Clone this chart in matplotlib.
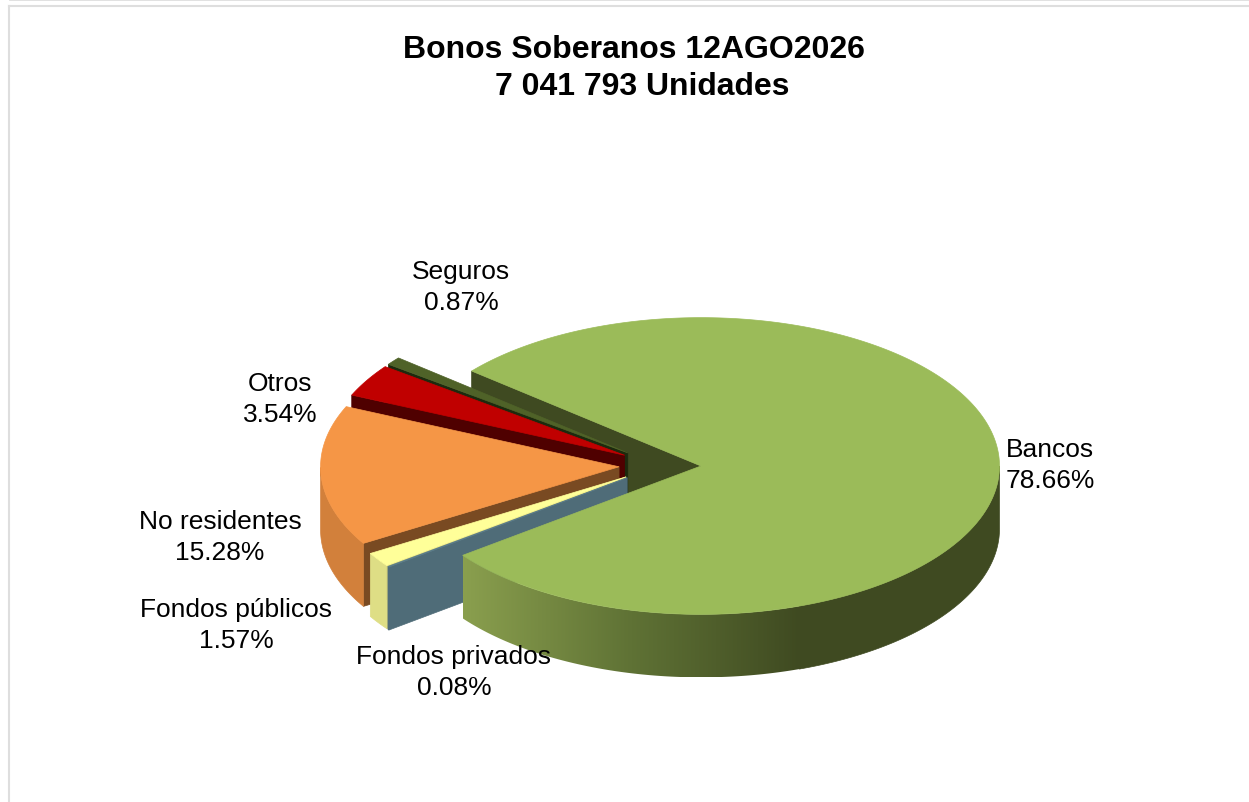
import numpy as np
import matplotlib
matplotlib.use("Agg")
import matplotlib.pyplot as plt
from matplotlib.colors import LinearSegmentedColormap
from matplotlib.patches import Polygon

plt.rcParams['font.family'] = ['Liberation Sans', 'DejaVu Sans']

# data, in drawing order of the chart (clockwise)
categories = ['Bancos', 'Fondos privados', 'Fondos públicos', 'No residentes', 'Otros', 'Seguros']
values = [78.66, 0.08, 1.57, 15.28, 3.54, 0.87]

top_colors = ['#9BBB59', '#5A7C8A', '#FFFF99', '#F59646', '#C00000', '#4F6228']
rim_colors = [None, '#4F6C78', '#DEDE85', '#D2803B', '#7F0000', '#2E3A17']
cut_colors = ['#3F4A21', '#4F6C78', '#C9C97A', '#794A22', '#4F0000', '#1D2A0E']

label_xy = [(1050, 465.5), (454, 672.5), (236, 625.5), (220, 537.5), (280, 399.5), (461, 287.5)]

# geometry of the 3d pie, in pixels
cx, cy = 660, 466.5
rx, squash = 298.5, 0.497
depth = 63
explode = 41
start_angle = 140.2


def rim_point(center, t):
    t = np.radians(t)
    return np.column_stack([center[0] + rx * np.cos(t), center[1] - rx * squash * np.sin(t)])


fig = plt.figure(figsize=(12.49, 8.03), dpi=100)
ax = fig.add_axes([0, 0, 1, 1])
ax.set_xlim(0, 1249)
ax.set_ylim(803, 0)
ax.axis('off')

# angles of each slice, going clockwise
spans = np.array(values) / sum(values) * 360
starts = start_angle - np.concatenate([[0], np.cumsum(spans)[:-1]])
ends = starts - spans
mids = np.radians((starts + ends) / 2)
centers = [(cx + explode * np.cos(m), cy - explode * squash * np.sin(m)) for m in mids]


def draw_cut(i, t):
    c = centers[i]
    p = rim_point(c, np.array([t]))[0]
    poly = [c, p, (p[0], p[1] + depth), (c[0], c[1] + depth)]
    ax.add_patch(Polygon(poly, closed=True, fc=cut_colors[i], ec=cut_colors[i], lw=0.5, zorder=2))


def draw_slice(i):
    c = centers[i]
    t = np.linspace(starts[i], ends[i], max(int(spans[i] * 2), 3))
    arc = rim_point(c, t)
    # outer wall, only the part facing the viewer
    low = (t % 360) > 180
    if low.any() and rim_colors[i]:
        a = arc[low]
        wall = np.vstack([a, (a + [0, depth])[::-1]])
        ax.add_patch(Polygon(wall, closed=True, fc=rim_colors[i], ec=rim_colors[i], lw=0.5, zorder=2))
    ax.add_patch(Polygon(np.vstack([[c], arc]), closed=True, fc=top_colors[i], ec=top_colors[i], lw=0.5, zorder=2))


# cut wall of Bancos sits behind the other slices
draw_cut(0, starts[0])
for i in [5, 4]:
    draw_cut(i, starts[i])
    draw_slice(i)
draw_cut(3, starts[3])
draw_slice(3)
draw_cut(2, starts[2])
draw_slice(2)
draw_cut(1, starts[1])
draw_slice(1)

# Bancos outer wall with its gradient
t = np.linspace(ends[0] % 360, 360, 300)
a = rim_point(centers[0], t)
wall = Polygon(np.vstack([a, (a + [0, depth])[::-1]]), closed=True, fc='none', ec='none', zorder=3)
ax.add_patch(wall)
cmap = LinearSegmentedColormap.from_list('rim', ['#8A9F4E', '#5F7235', '#3F4A21'])
xs = np.linspace(0, 1, 256).reshape(1, -1)
x0, x1 = a[:, 0].min(), 800
im = ax.imshow(xs, extent=[x0, x1, a[:, 1].max() + depth, a[:, 1].min()], cmap=cmap,
               aspect='auto', zorder=3)
im.set_clip_path(wall)
right = np.vstack([a[a[:, 0] >= x1 - 1], (a[a[:, 0] >= x1 - 1] + [0, depth])[::-1]])
ax.add_patch(Polygon(right, closed=True, fc='#3F4A21', ec='#3F4A21', lw=0.5, zorder=3))
ax.set_xlim(0, 1249)
ax.set_ylim(803, 0)

# Bancos top
t = np.linspace(starts[0], ends[0], 500)
ax.add_patch(Polygon(np.vstack([[centers[0]], rim_point(centers[0], t)]), closed=True,
                     fc=top_colors[0], ec=top_colors[0], lw=0.5, zorder=4))

# labels
for name, v, (x, y) in zip(categories, values, label_xy):
    ax.text(x, y, f'{name}\n{v:.2f}%', ha='center', va='center', fontsize=19,
            color='black', linespacing=1.36, zorder=6)

ax.text(634, 49.5, 'Bonos Soberanos 12AGO2026', ha='center', va='center', fontsize=23,
        fontweight='bold', zorder=6)
ax.text(642.5, 87, '7 041 793 Unidades', ha='center', va='center', fontsize=23,
        fontweight='bold', zorder=6)

# frame of the chart area
ax.plot([9, 9], [803, 7], color='#DEDEDE', lw=1.5, zorder=1)
ax.plot([9, 1249], [7, 7], color='#DEDEDE', lw=1.5, zorder=1)
ax.plot([10, 1249], [0, 0], color='#DEDEDE', lw=2, zorder=1)

fig.savefig('out.png', dpi=100)
